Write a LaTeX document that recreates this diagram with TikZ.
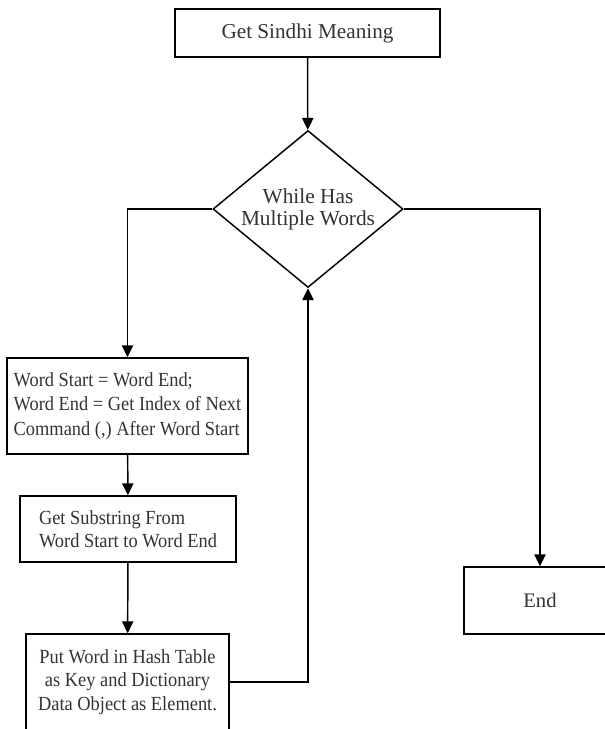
\documentclass[tikz,border=0pt]{standalone}
\usepackage{fontspec}
\setmainfont{Liberation Serif}
\newfontfamily\narrowserif[FakeStretch=0.92]{Liberation Serif}
\usepackage{tikz}
\usetikzlibrary{shapes,arrows,positioning,calc,arrows.meta}

\tikzset{
  block/.style={draw, line width=1.1pt, rectangle, inner sep=2pt, text=black!80,
    font=\fontsize{15.5}{17}\selectfont},
  narrowblock/.style={block, font=\narrowserif\fontsize{15}{17.5}\selectfont},
  decision/.style={draw, line width=1.1pt, diamond, shape aspect=1.21, inner sep=-3pt, text=black!80,
    align=center, font=\fontsize{16}{16.5}\selectfont},
  flow/.style={line width=1.1pt, -{Triangle[length=9pt,width=8.5pt]}},
  link/.style={line width=1.1pt}
}

\begin{document}
\begin{tikzpicture}[x=0.75pt, y=-0.75pt]
    \useasboundingbox (0,0) rectangle (605,729);
    \clip (0,0) rectangle (605,729);
    \node [block, font=\fontsize{15.9}{17}\selectfont, minimum width=198.75pt, minimum height=36pt] (start) at (307.5, 33) {Get Sindhi Meaning};
    \node [decision, minimum width=142.5pt, minimum height=117.75pt] (loop) at (308, 209) {While Has\\Multiple Words};
    \node [narrowblock, font=\narrowserif\fontsize{15}{18.4}\selectfont, align=left, minimum width=180.75pt, minimum height=72pt] (swap) at (127.5, 406)
      {Word Start = Word End;\\Word End = Get Index of Next\\Command (,) After Word Start};
    \node [narrowblock, align=left, minimum width=162pt, minimum height=49.5pt] (substr) at (128, 529)
      {Get Substring From\\Word Start to Word End};
    \node [narrowblock, align=center, minimum width=152.25pt, minimum height=72pt] (put) at (127.5, 682)
      {Put Word in Hash Table\\as Key and Dictionary\\Data Object as Element.}; % bottom runs off the page
    \node [block, minimum width=114pt, minimum height=50.25pt] (stop) at (540, 600.5) {End};
    \draw [flow] (start) -- (loop);
    \draw [flow] (loop.west) -| (swap.north); % body of the loop
    \draw [flow] (swap) -- (substr);
    \draw [flow] (substr) -- (put);
    \draw [flow] (put.east) -| (loop.south); % back to the test
    \draw [flow] (loop.east) -| (stop.north); % exit
\end{tikzpicture}
\end{document}
